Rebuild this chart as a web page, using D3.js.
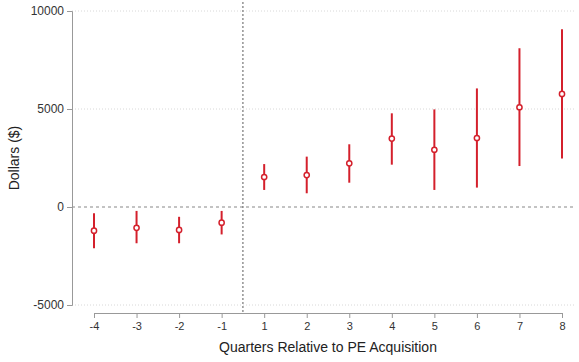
<!DOCTYPE html>
<html>
<head>
<meta charset="utf-8">
<script src="https://cdn.jsdelivr.net/npm/d3@7"></script>
<style>
  body { margin:0; background:#fff; }
  text { font-family: "Liberation Sans", Arial, sans-serif; }
</style>
</head>
<body>
<svg id="viz" width="579" height="362"></svg>
<script>
// quarters relative to acquisition, point estimates and 95% CI
const quarters = [-4, -3, -2, -1, 1, 2, 3, 4, 5, 6, 7, 8]
const estimates = [-1210, -1060, -1170, -800, 1530, 1630, 2230, 3490, 2920, 3520, 5090, 5770]
const ciLow = [-2110, -1850, -1850, -1400, 870, 700, 1240, 2160, 870, 990, 2090, 2470]
const ciHigh = [-320, -200, -500, -200, 2190, 2570, 3200, 4780, 4980, 6050, 8100, 9070]
const yTicks = [-5000, 0, 5000, 10000]

const svg = d3.select("svg#viz")
const RED = '#d4202c'

const y = d3.scaleLinear().domain([-5000, 10000]).range([305, 11])
const x = d3.scalePoint().domain(quarters).range([94, 562])

const data = quarters.map((q, i) => ({ q: q, est: estimates[i], lo: ciLow[i], hi: ciHigh[i] }))

// gridlines (dotted)
svg.append('g').selectAll('line')
    .data(yTicks.filter(d => d != 0))
    .join('line')
    .attr('x1', 72).attr('x2', 576)
    .attr('y1', d => y(d)).attr('y2', d => y(d))
    .attr('stroke', '#d8d8d8')
    .attr('stroke-dasharray', '1,2')

// zero line
svg.append('line')
    .attr('x1', 72).attr('x2', 576)
    .attr('y1', y(0)).attr('y2', y(0))
    .attr('stroke', '#888')
    .attr('stroke-width', 1.2)
    .attr('stroke-dasharray', '3,3')

// vertical line between -1 and 1
const xv = (x(-1) + x(1)) / 2
svg.append('line')
    .attr('x1', xv).attr('x2', xv)
    .attr('y1', 2).attr('y2', 313)
    .attr('stroke', '#777')
    .attr('stroke-width', 1.2)
    .attr('stroke-dasharray', '2,2')

// y axis
const yAxis = svg.append('g')
    .attr('transform', 'translate(72,0)')
    .call(d3.axisLeft(y).tickValues(yTicks).tickFormat(d => String(d)).tickSize(5).tickPadding(3))
yAxis.select('.domain').attr('stroke', '#999')
yAxis.selectAll('.tick line').attr('stroke', '#999')
yAxis.selectAll('.tick text').attr('font-size', 12).attr('fill', '#333')

// x axis
const xAxis = svg.append('g')
    .attr('transform', 'translate(0,313)')
    .call(d3.axisBottom(x).tickFormat(d => String(d)).tickSize(5).tickSizeOuter(5).tickPadding(4))
xAxis.select('.domain').attr('stroke', '#999')
xAxis.selectAll('.tick line').attr('stroke', '#999')
xAxis.selectAll('.tick text').attr('font-size', 11).attr('fill', '#333')

// error bars
svg.append('g').selectAll('line')
    .data(data)
    .join('line')
    .attr('x1', d => x(d.q)).attr('x2', d => x(d.q))
    .attr('y1', d => y(d.lo)).attr('y2', d => y(d.hi))
    .attr('stroke', RED)
    .attr('stroke-width', 2)

// points
svg.append('g').selectAll('circle')
    .data(data)
    .join('circle')
    .attr('cx', d => x(d.q))
    .attr('cy', d => y(d.est))
    .attr('r', 2.6)
    .attr('fill', '#fff')
    .attr('stroke', RED)
    .attr('stroke-width', 1.5)

// axis titles
svg.append('text')
    .attr('x', (94 + 562) / 2).attr('y', 352)
    .attr('text-anchor', 'middle')
    .attr('font-size', 14)
    .attr('fill', '#222')
    .text('Quarters Relative to PE Acquisition')

svg.append('text')
    .attr('transform', 'translate(19,158) rotate(-90)')
    .attr('text-anchor', 'middle')
    .attr('font-size', 14)
    .attr('fill', '#222')
    .text('Dollars ($)')
</script>
</body>
</html>
